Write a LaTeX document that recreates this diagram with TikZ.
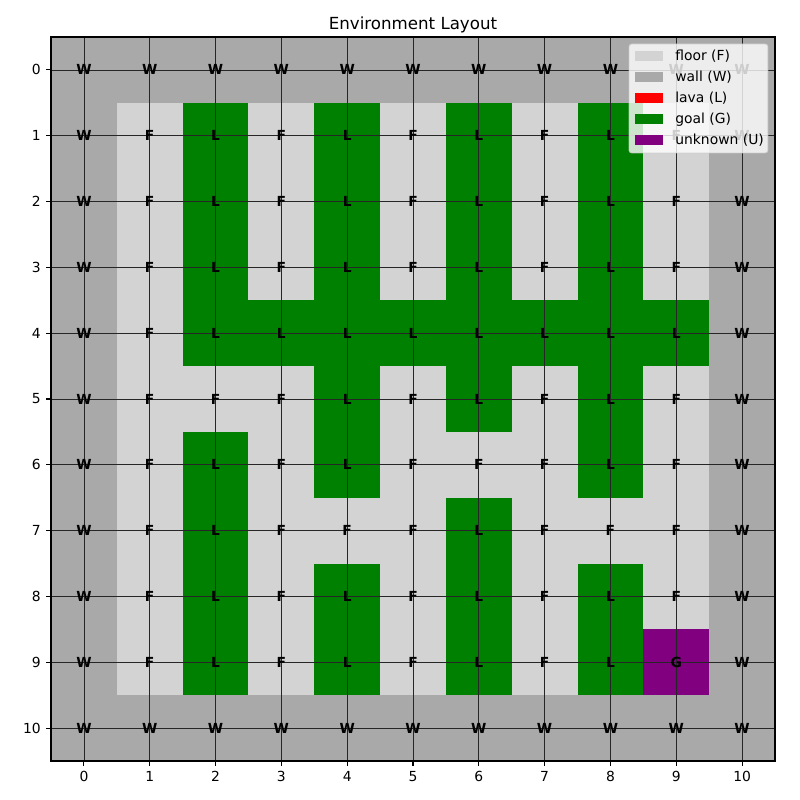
\documentclass[tikz,border=0pt]{standalone}
\usepackage{fontspec}
\setmainfont{DejaVu Sans}
\usepackage{xcolor}
\usetikzlibrary{positioning}
\definecolor{colF}{HTML}{D3D3D3}
\definecolor{colW}{HTML}{A9A9A9}
\definecolor{colL}{HTML}{008000}
\definecolor{colG}{HTML}{800080}
\definecolor{lavared}{HTML}{FF0000}

\begin{document}
\begin{tikzpicture}[x=1cm,y=-1cm,font=\fontsize{6}{7}\selectfont,
  gridline/.style={black!85,line width=0.35pt},
  celltxt/.style={font=\fontsize{6}{7}\selectfont\bfseries,inner sep=0pt},
  legpatch/.style={minimum width=0.425cm,minimum height=0.152cm,inner sep=0pt,anchor=west},
  legtxt/.style={inner sep=0pt,font=\fontsize{6}{7}\selectfont}]
\useasboundingbox (-1.275,-1.062) rectangle (10.88,11.09);
% cells
\foreach \r/\row in {0/{W,W,W,W,W,W,W,W,W,W,W},1/{W,F,L,F,L,F,L,F,L,F,W},2/{W,F,L,F,L,F,L,F,L,F,W},
  3/{W,F,L,F,L,F,L,F,L,F,W},4/{W,F,L,L,L,L,L,L,L,L,W},5/{W,F,F,F,L,F,L,F,L,F,W},
  6/{W,F,L,F,L,F,F,F,L,F,W},7/{W,F,L,F,F,F,L,F,F,F,W},8/{W,F,L,F,L,F,L,F,L,F,W},
  9/{W,F,L,F,L,F,L,F,L,G,W},10/{W,W,W,W,W,W,W,W,W,W,W}}{
  \foreach \k [count=\c from 0] in \row {
    \fill[fill=col\k] (\c-0.5,\r-0.5) rectangle (\c+0.5,\r+0.5);
  }
}
\foreach \i in {0,...,10}{
  \draw[gridline] (\i,-0.5) -- (\i,10.5);
  \draw[gridline] (-0.5,\i) -- (10.5,\i);
}
\foreach \r/\row in {0/{W,W,W,W,W,W,W,W,W,W,W},1/{W,F,L,F,L,F,L,F,L,F,W},2/{W,F,L,F,L,F,L,F,L,F,W},
  3/{W,F,L,F,L,F,L,F,L,F,W},4/{W,F,L,L,L,L,L,L,L,L,W},5/{W,F,F,F,L,F,L,F,L,F,W},
  6/{W,F,L,F,L,F,F,F,L,F,W},7/{W,F,L,F,F,F,L,F,F,F,W},8/{W,F,L,F,L,F,L,F,L,F,W},
  9/{W,F,L,F,L,F,L,F,L,G,W},10/{W,W,W,W,W,W,W,W,W,W,W}}{
  \foreach \k [count=\c from 0] in \row {
    \node[celltxt] (t\r-\c) at (\c,\r) {\k};
  }
}
% axes
\draw[line width=0.48pt] (-0.5,-0.5) rectangle (10.5,10.5);
\foreach \i in {0,...,10}{
  \draw[line width=0.48pt] (-0.5,\i) -- (-0.574,\i) node[anchor=east,inner sep=0pt,xshift=-2.1pt] (yl\i) {\i};
  \draw[line width=0.48pt] (\i,10.5) -- (\i,10.574) node[anchor=north,inner sep=0pt,yshift=-2.1pt] (xl\i) {\i};
}
\node[anchor=base,inner sep=0pt,font=\fontsize{7.2}{8}\selectfont] (title) at (5,-0.617) {Environment Layout};
% legend
\fill[white,fill opacity=0.8,draw=black!20,draw opacity=0.8,rounded corners=1.2pt] (8.282,-0.394) rectangle (10.393,1.262);
\foreach \n/\c/\t [count=\j from 0] in {pf/colF/floor (F),pw/colW/wall (W),pl/lavared/lava (L),pg/colL/goal (G),pu/colG/unknown (U)}{
  \node[legpatch,fill=\c] (\n) at (8.373,-0.211+0.3206*\j) {};
  \node[legtxt,right=0.167cm of \n] (\n t) {\t};
}
\end{tikzpicture}
\end{document}
